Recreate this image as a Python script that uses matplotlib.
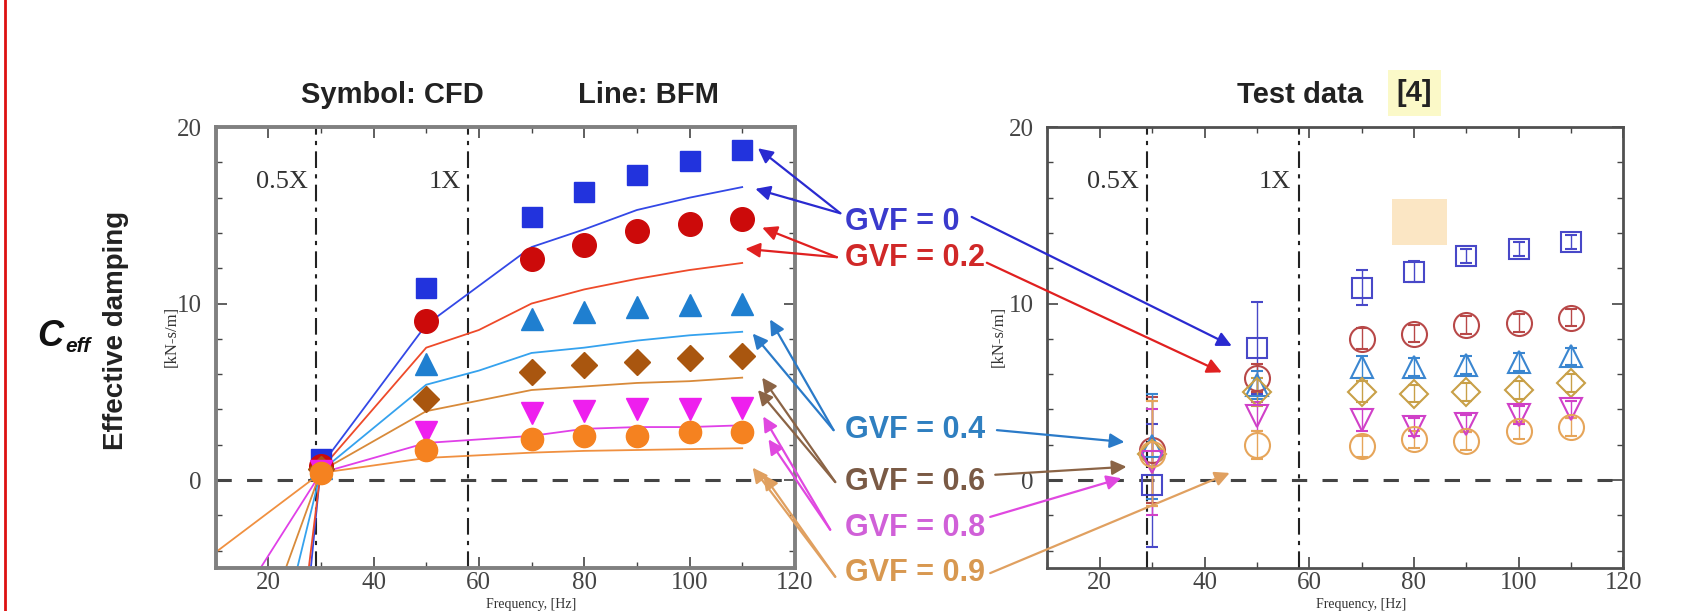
import matplotlib
matplotlib.use("Agg")
import matplotlib.pyplot as plt
from matplotlib.lines import Line2D
from matplotlib.patches import Rectangle
from matplotlib.ticker import MultipleLocator

# --- data ---
gvf_labels = ['GVF = 0', 'GVF = 0.2', 'GVF = 0.4', 'GVF = 0.6', 'GVF = 0.8', 'GVF = 0.9']

# CFD symbols (left panel)
cfd_freq = [30, 50, 70, 80, 90, 100, 110]
cfd_gvf0 = [1.2, 10.9, 14.9, 16.3, 17.3, 18.1, 18.7]
cfd_gvf02 = [0.8, 9.0, 12.5, 13.3, 14.1, 14.5, 14.8]
cfd_gvf04 = [0.7, 6.6, 9.1, 9.5, 9.8, 9.9, 10.0]
cfd_gvf06 = [0.6, 4.6, 6.1, 6.5, 6.7, 6.9, 7.0]
cfd_gvf08 = [0.5, 2.7, 3.8, 3.9, 4.0, 4.0, 4.1]
cfd_gvf09 = [0.4, 1.7, 2.3, 2.5, 2.5, 2.7, 2.7]

# BFM lines (left panel)
bfm_freq = [10, 30, 50, 60, 70, 80, 90, 100, 110]
bfm_gvf0 = [-60, 0.8, 8.8, 11.0, 13.2, 14.2, 15.3, 16.0, 16.6]
bfm_gvf02 = [-48, 0.6, 7.5, 8.5, 10.0, 10.8, 11.4, 11.9, 12.3]
bfm_gvf04 = [-24, 0.5, 5.4, 6.2, 7.2, 7.5, 7.9, 8.2, 8.4]
bfm_gvf06 = [-16, 0.5, 3.9, 4.5, 5.1, 5.3, 5.5, 5.6, 5.8]
bfm_gvf08 = [-9, 0.4, 2.1, 2.3, 2.5, 2.9, 3.0, 3.0, 3.1]
bfm_gvf09 = [-4.1, 0.4, 1.25, 1.4, 1.55, 1.65, 1.7, 1.75, 1.8]

# Test data [4] (right panel)
test_freq = [30, 50, 70, 80, 90, 100, 110]
test_gvf0 = [-0.3, 7.5, 10.9, 11.8, 12.7, 13.1, 13.5]
test_gvf02 = [1.7, 5.8, 8.0, 8.3, 8.8, 8.9, 9.2]
test_gvf04 = [1.9, 5.4, 6.4, 6.4, 6.5, 6.7, 7.0]
test_gvf06 = [1.5, 5.0, 5.0, 4.9, 5.0, 5.1, 5.5]
test_gvf08 = [1.0, 3.6, 3.4, 3.0, 3.2, 3.7, 4.0]
test_gvf09 = [1.5, 2.0, 1.9, 2.3, 2.2, 2.8, 3.0]
test_err0 = [3.5, 2.6, 1.0, 0.6, 0.4, 0.4, 0.4]
test_err = [3.0, 0.8, 0.6, 0.5, 0.5, 0.5, 0.5]

# arrow targets (data coords) : left panel (symbol, line), right panel
arrow_left = [[(113, 18.8), (112.5, 16.5)],
              [(113.8, 14.3), (110.6, 13.1)],
              [(115.3, 9.1), (112, 8.3)],
              [(113.8, 5.8), (113, 5.1)],
              [(114, 3.6), (115, 2.3)],
              [(112, 0.7), (114, 0.3)]]
arrow_right = [(45.2, 7.6), (43.3, 6.1), (24.7, 2.15), (25.1, 0.75), (24.1, 0.1), (44.8, 0.4)]

# --- styling ---
sym_colors = ['#2233dd', '#cc0a0a', '#1f7fd0', '#a9560f', '#ee1fee', '#f58220']
line_colors = ['#3348e6', '#ee4a2a', '#35a2ee', '#d88a3a', '#e040e8', '#f09040']
test_colors = ['#4848c8', '#b84848', '#3a86d0', '#c8a048', '#d040c8', '#e6a55a']
arrow_colors = ['#2a2ad0', '#e02020', '#2a7ac8', '#8b6446', '#e048e0', '#e0a060']
text_colors = ['#3a3acc', '#d02828', '#2f7fc0', '#7a5a45', '#d060d8', '#d89850']
sym_markers = ['s', 'o', '^', 'D', 'v', 'o']
sym_sizes = [14, 17, 16, 13, 16, 16]
test_sizes = [14, 18, 16, 14, 16, 18]

cfd_sets = [cfd_gvf0, cfd_gvf02, cfd_gvf04, cfd_gvf06, cfd_gvf08, cfd_gvf09]
bfm_sets = [bfm_gvf0, bfm_gvf02, bfm_gvf04, bfm_gvf06, bfm_gvf08, bfm_gvf09]
test_sets = [test_gvf0, test_gvf02, test_gvf04, test_gvf06, test_gvf08, test_gvf09]

serif = 'Liberation Serif'
sans = 'Liberation Sans'

fig = plt.figure(figsize=(16.84, 6.11), dpi=100)
ax1 = fig.add_axes([0.128, 0.070, 0.344, 0.722])
ax2 = fig.add_axes([0.622, 0.070, 0.342, 0.722])


def style_axes(ax, spine_col, spine_lw):
    ax.set_xlim(10, 120)
    ax.set_ylim(-5, 20)
    ax.xaxis.set_major_locator(MultipleLocator(20))
    ax.xaxis.set_minor_locator(MultipleLocator(10))
    ax.yaxis.set_major_locator(MultipleLocator(10))
    ax.yaxis.set_minor_locator(MultipleLocator(2))
    ax.tick_params(which='both', direction='in', top=True, right=True,
                   labelsize=18, colors='#444')
    ax.tick_params(axis='y', pad=10)
    ax.tick_params(axis='x', pad=3)
    ax.tick_params(which='major', length=8, width=1.2)
    ax.tick_params(which='minor', length=4, width=1)
    for lab in ax.get_xticklabels() + ax.get_yticklabels():
        lab.set_fontfamily(serif)
    for sp in ax.spines.values():
        sp.set_color(spine_col)
        sp.set_linewidth(spine_lw)
    # 0.5X and 1X markers, zero line
    for xv, lab in [(29, '0.5X'), (58, '1X')]:
        ax.axvline(xv, color='#222', lw=1.5, ls=(0, (8, 3, 2, 3)), zorder=1)
        ax.text(xv - 1.5, 16.9, lab, ha='right', va='center', fontsize=19,
                family=serif, color='#333')
    ax.axhline(0, xmax=0.98, color='#444', lw=2.2, ls=(0, (5, 5)), zorder=1)


style_axes(ax1, '#808080', 2.8)
style_axes(ax2, '#505050', 2.0)

# left panel: BFM lines + CFD symbols
for i in range(6):
    ax1.plot(bfm_freq, bfm_sets[i], color=line_colors[i], lw=1.3, zorder=2)
for i in range(6):
    ax1.plot(cfd_freq, cfd_sets[i], ls='none', marker=sym_markers[i],
             ms=sym_sizes[i], color=sym_colors[i], mec=sym_colors[i], zorder=3)

# right panel: open symbols with error bars
for i in range(6):
    err = test_err0 if i == 0 else test_err
    ax2.errorbar(test_freq, test_sets[i], yerr=err, fmt=sym_markers[i],
                 ms=test_sizes[i], mfc='none', mec=test_colors[i], mew=1.5,
                 ecolor=test_colors[i], elinewidth=1, capsize=4, zorder=3)

# peach patch over the test panel
ax2.add_patch(Rectangle((75.8, 13.3), 10.5, 2.6, color='#fbe6c4', lw=0, zorder=2))

# GVF labels and arrows
text_y = [0.637, 0.578, 0.296, 0.211, 0.136, 0.062]
left_tail = [(0.499, 0.651), (0.497, 0.579), (0.495, 0.296),
             (0.496, 0.211), (0.493, 0.133), (0.496, 0.056)]
right_tail = [(0.577, 0.645), (0.586, 0.570), (0.592, 0.296),
              (0.591, 0.223), (0.588, 0.154), (0.588, 0.062)]
for i in range(6):
    fig.text(0.502, text_y[i], gvf_labels[i], color=text_colors[i],
             fontsize=22, fontweight='bold', family=sans, va='center', ha='left')
    for hx, hy in arrow_left[i]:
        ax1.annotate('', xy=(hx, hy), xycoords='data', xytext=left_tail[i],
                     textcoords='figure fraction', annotation_clip=False,
                     arrowprops=dict(arrowstyle='-|>', color=arrow_colors[i], lw=1.6,
                                     mutation_scale=22, shrinkA=0, shrinkB=0))
    ax2.annotate('', xy=arrow_right[i], xycoords='data', xytext=right_tail[i],
                 textcoords='figure fraction', annotation_clip=False,
                 arrowprops=dict(arrowstyle='-|>', color=arrow_colors[i], lw=1.6,
                                 mutation_scale=22, shrinkA=0, shrinkB=0))

# titles
fig.text(0.233, 0.845, 'Symbol: CFD', fontsize=21, fontweight='bold', family=sans,
         ha='center', va='center', color='#222')
fig.text(0.385, 0.845, 'Line: BFM', fontsize=21, fontweight='bold', family=sans,
         ha='center', va='center', color='#222')
fig.text(0.772, 0.845, 'Test data', fontsize=21, fontweight='bold', family=sans,
         ha='center', va='center', color='#222')
fig.text(0.840, 0.848, '[4]', fontsize=21, fontweight='bold', family=sans,
         ha='center', va='center', color='#222',
         bbox=dict(boxstyle='square,pad=0.3', fc='#fbf9c8', ec='none'))

# y labels
fig.text(0.069, 0.46, 'Effective damping', rotation=90, fontsize=20,
         fontweight='bold', family=sans, ha='center', va='center', color='#222')
fig.text(0.102, 0.45, '[kN-s/m]', rotation=90, fontsize=12, family=serif,
         ha='center', va='center', color='#333')
fig.text(0.593, 0.45, '[kN-s/m]', rotation=90, fontsize=12, family=serif,
         ha='center', va='center', color='#333')
fig.text(0.022, 0.45, 'C', fontsize=26, fontweight='bold', style='italic',
         family=sans, ha='left', va='center', color='#111')
fig.text(0.039, 0.433, 'eff', fontsize=15, fontweight='bold', style='italic',
         family=sans, ha='left', va='center', color='#111')

# x labels at the bottom edge, centred between the 60 and 80 ticks
fig.text(0.3156, 0.0, 'Frequency, [Hz]', fontsize=10, family=serif,
         ha='center', va='bottom', color='#333')
fig.text(0.8085, 0.0, 'Frequency, [Hz]', fontsize=10, family=serif,
         ha='center', va='bottom', color='#333')

# red border on the left
fig.add_artist(Line2D([0.003, 0.003], [0, 1], color='#dd1111', lw=2,
                      transform=fig.transFigure))

fig.savefig('out.png', dpi=100)
